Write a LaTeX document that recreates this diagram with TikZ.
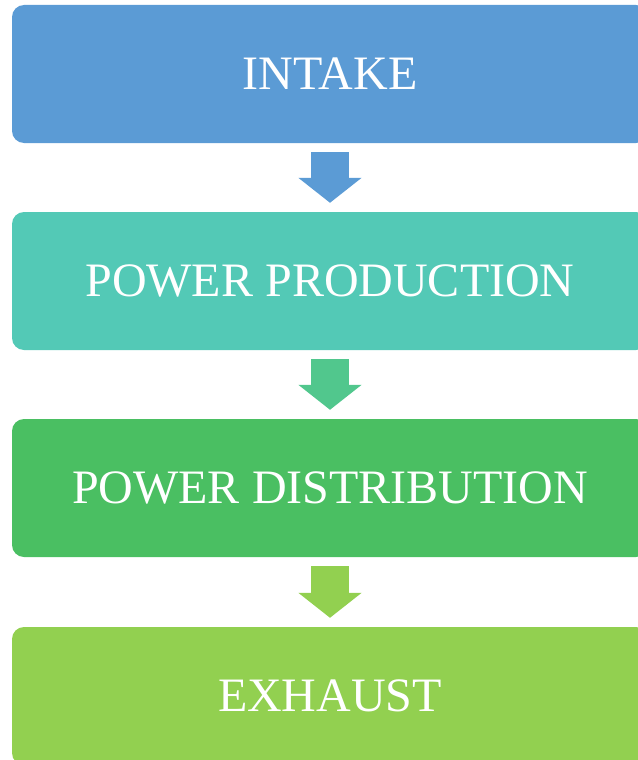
\documentclass[tikz,border=0pt]{standalone}
\usepackage{fontspec}
\setmainfont{Liberation Serif}
\usepackage{xcolor}
\usetikzlibrary{arrows.meta}

\definecolor{stageA}{HTML}{5B9BD5}
\definecolor{stageB}{HTML}{53C9B6}
\definecolor{stageC}{HTML}{4ABF62}
\definecolor{stageD}{HTML}{92D050}
\definecolor{flowB}{HTML}{51C78D}

\begin{document}
\begin{tikzpicture}[x=1pt,y=-1pt,font=\fontsize{48}{52}\selectfont]
\tikzset{stage/.style={rounded corners=12pt,minimum width=636pt,minimum height=138pt,
  inner sep=0pt,text=white},
flow/.style={line width=38pt,-{Triangle[width=62pt,length=25pt]}}}
\useasboundingbox (0,0) rectangle (637,760);
% stages, top to bottom
\node[stage,fill=stageA] (intake) at (330,74) {INTAKE};
\node[stage,fill=stageB] (prod) at (330,281) {POWER PRODUCTION};
\node[stage,fill=stageC] (dist) at (330,488) {POWER DISTRIBUTION};
\node[stage,fill=stageD] (exh) at (330,696) {EXHAUST};
% block arrows between stages
\draw[flow,stageA] ([yshift=-9pt]intake.south)--([yshift=9pt]prod.north);
\draw[flow,flowB] ([yshift=-9pt]prod.south)--([yshift=9pt]dist.north);
\draw[flow,stageD] ([yshift=-9pt]dist.south)--([yshift=9pt]exh.north);
\end{tikzpicture}
\end{document}
